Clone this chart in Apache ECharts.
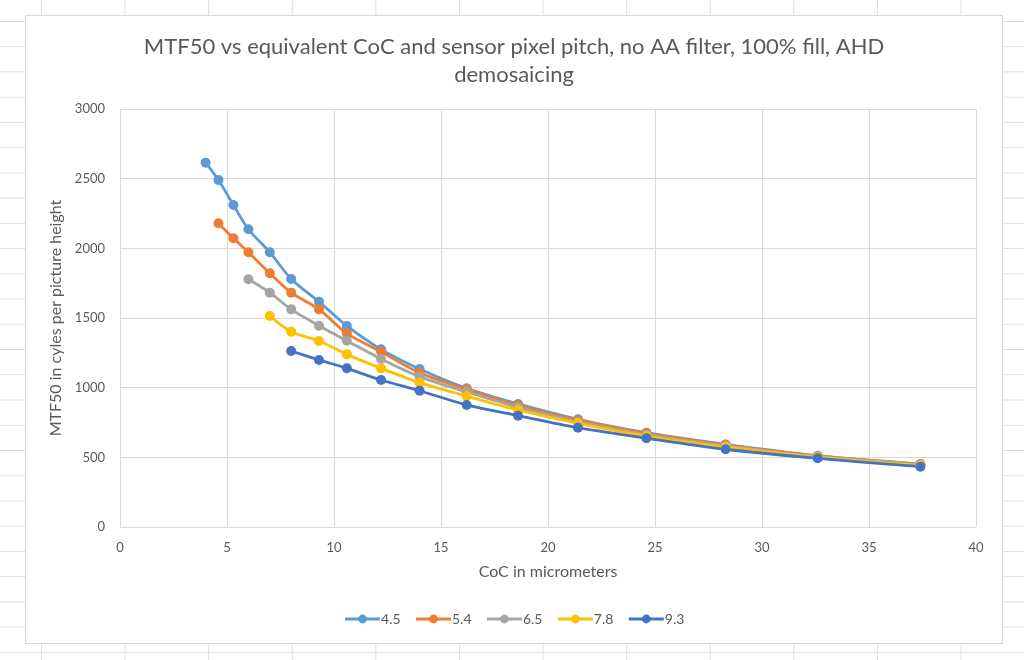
<!DOCTYPE html>
<html>
<head>
<meta charset="utf-8">
<script src="https://cdn.jsdelivr.net/npm/echarts@6/dist/echarts.min.js"></script>
<style>
  html, body { margin: 0; padding: 0; width: 1024px; height: 660px; overflow: hidden; }
  body {
    background-color: #ffffff;
    background-image:
      linear-gradient(to right, #dedede 1px, transparent 1px),
      linear-gradient(to bottom, #dedede 1px, transparent 1px);
    background-size: 83.6px 25.24px, 83.6px 25.24px;
    background-position: 41px 21px, 41px 21px;
  }
  #chart {
    position: absolute; left: 25px; top: 15px; width: 978px; height: 629px;
    background: #ffffff; border: 1px solid #d6d6d6; box-sizing: border-box;
  }
</style>
</head>
<body>
<div id="chart"></div>
<script>
// CoC in micrometers (x positions shared by all series)
const coc = [4.0, 4.6, 5.3, 6.0, 7.0, 8.0, 9.3, 10.6, 12.2, 14.0, 16.2, 18.6, 21.4, 24.6, 28.3, 32.6, 37.4];

// Sensor pixel pitch series names
const seriesNames = ['4.5', '5.4', '6.5', '7.8', '9.3'];

// MTF50 values (cycles per picture height), null = no point
const mtf45 = [2615, 2490, 2311, 2137, 1972, 1780, 1617, 1443, 1275, 1134, 995, 883, 773, 677, 593, 512, 452];
const mtf54 = [null, 2180, 2072, 1972, 1821, 1682, 1562, 1390, 1258, 1107, 988, 873, 768, 672, 590, 510, 450];
const mtf65 = [null, null, null, 1778, 1682, 1562, 1445, 1337, 1206, 1079, 969, 859, 756, 662, 583, 506, 447];
const mtf78 = [null, null, null, null, 1514, 1402, 1335, 1239, 1139, 1036, 940, 840, 744, 653, 575, 502, 443];
const mtf93 = [null, null, null, null, null, 1263, 1199, 1139, 1055, 978, 876, 799, 713, 637, 558, 493, 433];

const seriesValues = [mtf45, mtf54, mtf65, mtf78, mtf93];
const colors = ['#5B9BD5', '#ED7D31', '#A5A5A5', '#FFC000', '#4472C4'];

const titleText = 'MTF50 vs equivalent CoC and sensor pixel pitch, no AA filter, 100% fill, AHD\ndemosaicing';
const xName = 'CoC in micrometers';
const yName = 'MTF50 in cyles per picture height';

const FONT = 'Lato, "Liberation Sans", sans-serif';
const TXT = '#595959';

const chart = echarts.init(document.getElementById('chart'), null, { renderer: 'canvas' });

const series = seriesNames.map((name, i) => ({
  name: name,
  type: 'line',
  smooth: 0.3,
  symbol: 'circle',
  symbolSize: 10,
  showAllSymbol: true,
  lineStyle: { width: 2.8, color: colors[i] },
  itemStyle: { color: colors[i] },
  emphasis: { disabled: true },
  animation: false,
  data: coc.map((x, k) => [x, seriesValues[i][k]]).filter(p => p[1] !== null)
}));

chart.setOption({
  animation: false,
  color: colors,
  textStyle: { fontFamily: FONT },
  title: {
    text: titleText,
    left: 'center',
    top: 12,
    textStyle: { fontFamily: FONT, fontSize: 22, fontWeight: 'normal', color: TXT, lineHeight: 28, align: 'center' }
  },
  grid: { left: 94, top: 93, width: 856, height: 418, containLabel: false },
  legend: {
    data: seriesNames,
    bottom: 12,
    left: 'center',
    itemWidth: 35,
    itemHeight: 11,
    itemGap: 14,
    lineStyle: { width: 2.8 },
    textStyle: { fontFamily: FONT, fontSize: 14, color: TXT, padding: [0, 0, 0, -4] }
  },
  xAxis: {
    type: 'value',
    min: 0, max: 40, interval: 5,
    name: xName,
    nameLocation: 'middle',
    nameGap: 37,
    nameTextStyle: { fontFamily: FONT, fontSize: 16, color: TXT },
    axisLine: { show: false },
    axisTick: { show: false },
    axisLabel: { fontFamily: FONT, fontSize: 13, color: TXT, margin: 14 },
    splitLine: { show: true, lineStyle: { color: '#d9d9d9', width: 1 } }
  },
  yAxis: {
    type: 'value',
    min: 0, max: 3000, interval: 500,
    name: yName,
    nameLocation: 'middle',
    nameRotate: 90,
    nameGap: 54,
    nameTextStyle: { fontFamily: FONT, fontSize: 16, color: TXT },
    axisLine: { show: false },
    axisTick: { show: false },
    axisLabel: { fontFamily: FONT, fontSize: 13, color: TXT, margin: 15, formatter: v => String(v) },
    splitLine: { show: true, lineStyle: { color: '#d9d9d9', width: 1 } }
  },
  series: series
});
</script>
</body>
</html>
